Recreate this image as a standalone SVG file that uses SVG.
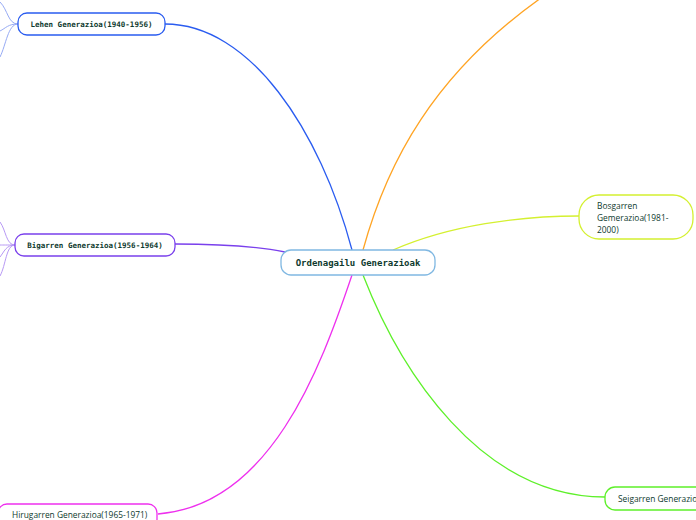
<svg xmlns="http://www.w3.org/2000/svg" width="696" height="520" viewBox="0 0 696 520">
<style>
.c{fill:none;stroke-width:1.3}
.n{fill:#fff;stroke-width:1.3}
.m{font-family:"DejaVu Sans Mono",monospace;font-weight:bold;fill:#0e3a2e}
.s{font-family:"Open Sans","Noto Sans",sans-serif;font-size:8.4px;fill:#0e3a2e}
</style>
<rect width="696" height="520" fill="#fff"/>
<g id="connectors">
<path class="c" stroke="#2a5cf0" d="M352,250 C320,130 250,24 165,24"/>
<path class="c" stroke="#ffa424" d="M363,250 C385,170 430,70 560,-15"/>
<path class="c" stroke="#d4f030" d="M393,250 C450,225 520,216 579,216"/>
<path class="c" stroke="#7a40ec" d="M175,244 C230,244 260,247 285,252"/>
<path class="c" stroke="#ee30ee" d="M352,275 C320,370 270,505 158,514"/>
<path class="c" stroke="#5ef02a" d="M363,275 C400,370 480,497 605,497"/>
<g stroke="#96aaf4" fill="none" stroke-width="1">
<path d="M18,24 C8,24 8,10 0,2"/>
<path d="M18,24 C8,24 6,28 0,31"/>
<path d="M18,24 C8,24 6,45 0,57"/>
</g>
<g stroke="#b798f4" fill="none" stroke-width="1">
<path d="M15,245 C6,245 6,230 0,222"/>
<path d="M15,245 C6,245 4,245 0,245"/>
<path d="M15,245 C6,245 4,252 0,257"/>
<path d="M15,245 C6,245 6,265 0,276"/>
</g>
</g>
<g id="central">
<rect class="n" x="281" y="250" width="154" height="25" rx="10" stroke="#80b8e2"/>
<text class="m" x="358" y="265.5" font-size="9" text-anchor="middle">Ordenagailu Generazioak</text>
</g>
<g id="lehen">
<rect class="n" x="18" y="13" width="147" height="22" rx="9" stroke="#2a5cf0"/>
<text class="m" x="91.5" y="26.5" font-size="7.5" text-anchor="middle">Lehen Generazioa(1940-1956)</text>
</g>
<g id="bigarren">
<rect class="n" x="15" y="234" width="160" height="22" rx="9" stroke="#7a40ec"/>
<text class="m" x="95" y="247.5" font-size="7.5" text-anchor="middle">Bigarren Generazioa(1956-1964)</text>
</g>
<g id="hirugarren">
<rect class="n" x="-2" y="504" width="159" height="24" rx="9" stroke="#ee30ee"/>
<text class="s" x="12" y="518">Hirugarren Generazioa(1965-1971)</text>
</g>
<g id="bosgarren">
<rect class="n" x="579" y="195" width="114" height="44" rx="20" stroke="#d4f030"/>
<text class="s" x="597" y="209">Bosgarren</text>
<text class="s" x="597" y="221">Gemerazioa(1981-</text>
<text class="s" x="597" y="233">2000)</text>
</g>
<g id="seigarren">
<rect class="n" x="605" y="487" width="110" height="23" rx="10" stroke="#5ef02a"/>
<text class="s" x="618" y="502">Seigarren Generazioa</text>
</g>
</svg>
